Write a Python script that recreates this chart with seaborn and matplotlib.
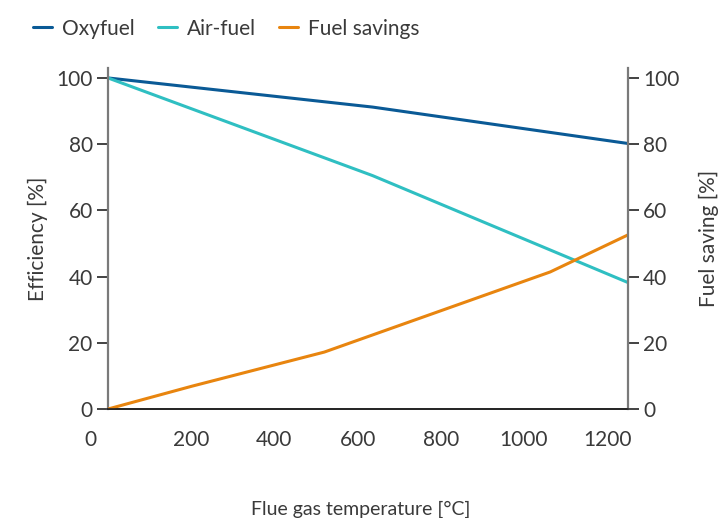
import matplotlib
matplotlib.use("Agg")
import matplotlib.pyplot as plt
import seaborn as sns
import pandas as pd
from matplotlib.lines import Line2D

# Data
eff_temp = [0, 636, 1250]
oxyfuel = [100, 91.2, 80.2]
airfuel = [100, 70.5, 38.2]
sav_temp = [0, 202, 520, 1063, 1250]
fuel_savings = [0, 6.9, 17.2, 41.4, 52.6]
x_ticks = [200, 400, 600, 800, 1000, 1200]
y_ticks = [0, 20, 40, 60, 80, 100]

sns.set_theme(style="white")
plt.rcParams['font.family'] = ['Lato', 'DejaVu Sans']

C_OXY = "#0a5a96"
C_AIR = "#2fbfc2"
C_SAV = "#e8850f"
TXT = "#3a3a3a"
SPINE = "#7a7a7a"

fig = plt.figure(figsize=(7.22, 5.18), dpi=100)
ax = fig.add_axes([0.1496, 0.2104, 0.7202, 0.6583])

eff = pd.DataFrame({
    "temp": eff_temp * 2,
    "value": oxyfuel + airfuel,
    "series": ["Oxyfuel"] * 3 + ["Air-fuel"] * 3,
})
sav = pd.DataFrame({"temp": sav_temp, "value": fuel_savings, "series": ["Fuel savings"] * 5})

sns.lineplot(data=eff, x="temp", y="value", hue="series",
             palette={"Oxyfuel": C_OXY, "Air-fuel": C_AIR}, linewidth=2.2, ax=ax, legend=False)
ax2 = ax.twinx()
sns.lineplot(data=sav, x="temp", y="value", hue="series",
             palette={"Fuel savings": C_SAV}, linewidth=2.2, ax=ax2, legend=False)

for a in (ax, ax2):
    a.set_xlim(0, 1250)
    a.set_ylim(0, 103)
    a.set_yticks(y_ticks)
    a.set_ylabel("")
    a.set_xlabel("")
    a.spines["top"].set_visible(False)
    a.spines["left"].set_color(SPINE)
    a.spines["right"].set_color(SPINE)
    a.spines["left"].set_linewidth(1.6)
    a.spines["right"].set_linewidth(1.6)
    a.spines["bottom"].set_color("#222222")
    a.spines["bottom"].set_linewidth(1.2)

ax.spines["right"].set_visible(False)
ax2.spines["left"].set_visible(False)

ax.set_xticks(x_ticks)
ax.tick_params(axis="x", direction="out", length=8, width=1.2, color=SPINE, labelsize=15, labelcolor=TXT, pad=7)
ax.tick_params(axis="y", direction="out", length=8, width=1.2, color="#222222", labelsize=15, labelcolor=TXT, pad=3, left=True)
ax2.tick_params(axis="y", direction="out", length=8, width=1.2, color="#222222", labelsize=15, labelcolor=TXT, pad=3, right=True)

ax.annotate("0", xy=(0, 0), xycoords=("data", "axes fraction"), xytext=(-13, -15),
            textcoords="offset points", ha="center", va="top", fontsize=15, color=TXT)

ax.set_ylabel("Efficiency [%]", fontsize=15, color=TXT, labelpad=6)
ax2.set_ylabel("Fuel saving [%]", fontsize=15, color=TXT, rotation=90, labelpad=14)
fig.text(0.5, 0.0, "Flue gas temperature [°C]", ha="center", va="bottom", fontsize=14, color=TXT)

handles = [Line2D([], [], color=C_OXY, lw=2.2), Line2D([], [], color=C_AIR, lw=2.2), Line2D([], [], color=C_SAV, lw=2.2)]
fig.legend(handles, ["Oxyfuel", "Air-fuel", "Fuel savings"], loc="upper left", bbox_to_anchor=(0.02, 1.0),
           ncol=3, frameon=False, fontsize=15, handlelength=0.9, handletextpad=0.5, columnspacing=1.1,
           labelcolor=TXT)

fig.savefig("out.png", dpi=100)
